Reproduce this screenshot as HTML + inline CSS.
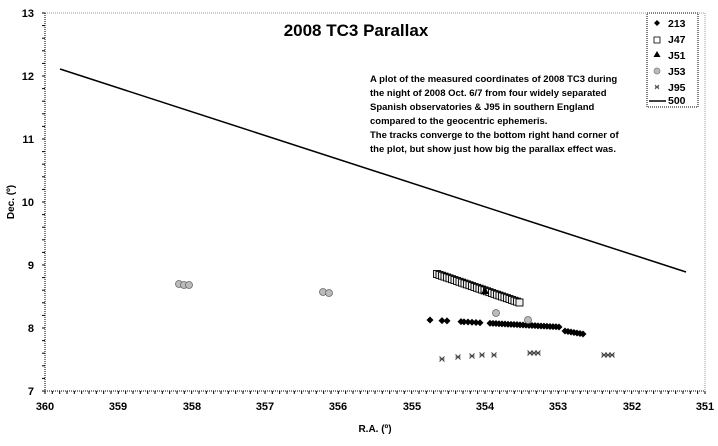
<!DOCTYPE html><html><head><style>body{margin:0;background:#fff}svg{font-family:"Liberation Sans",Arial,sans-serif;font-weight:bold}</style></head><body>
<svg width="718" height="441" xmlns="http://www.w3.org/2000/svg">
<rect width="718" height="441" fill="#fff"/>
<line x1="45" y1="13" x2="705" y2="13" stroke="#999" stroke-dasharray="1,1"/>
<line x1="705" y1="13" x2="705" y2="391" stroke="#999" stroke-dasharray="1,1"/>
<line x1="45" y1="13" x2="45" y2="391" stroke="#000" stroke-dasharray="1,1"/>
<line x1="45" y1="391" x2="705" y2="391" stroke="#000" stroke-dasharray="1,1"/>
<g stroke="#000" id="t"></g>
<g font-size="11" text-anchor="end">
<text x="34" y="17">13</text><text x="34" y="80">12</text><text x="34" y="143">11</text><text x="34" y="206">10</text><text x="34" y="269">9</text><text x="34" y="332">8</text><text x="34" y="395">7</text></g>
<g font-size="11" text-anchor="middle">
<text x="45" y="410">360</text><text x="118" y="410">359</text><text x="192" y="410">358</text><text x="265" y="410">357</text><text x="338" y="410">356</text><text x="412" y="410">355</text><text x="485" y="410">354</text><text x="558" y="410">353</text><text x="632" y="410">352</text><text x="705" y="410">351</text></g>
<text x="375" y="432" font-size="10" text-anchor="middle">R.A. (º)</text>
<text x="14" y="202" font-size="10" text-anchor="middle" transform="rotate(-90 14 202)">Dec. (º)</text>
<text x="356" y="36" font-size="17" text-anchor="middle">2008 TC3 Parallax</text>
<g font-size="9.5"><text x="370" y="82">A plot of the measured coordinates of 2008 TC3 during</text><text x="370" y="96">the night of 2008 Oct. 6/7 from four widely separated</text><text x="370" y="110">Spanish observatories &amp; J95 in southern England</text><text x="370" y="124">compared to the geocentric ephemeris.</text><text x="370" y="138">The tracks converge to the bottom right hand corner of</text><text x="370" y="152">the plot, but show just how big the parallax effect was.</text></g>
<line x1="60" y1="69" x2="686" y2="272" stroke="#000" stroke-width="1.5"/>
<g id="pts"></g>
<rect x="647" y="13" width="51" height="94" fill="#fff" stroke="#000" stroke-dasharray="1,1"/>
<g font-size="10.5"><text x="668" y="27">213</text><text x="668" y="43">J47</text><text x="668" y="59">J51</text><text x="668" y="75">J53</text><text x="668" y="91">J95</text><text x="668" y="107" dy="-3">500</text></g>
<path d="M657,20l3,3-3,3-3-3z" fill="#000"/>
<rect x="654" y="37" width="6" height="6" fill="#fff" stroke="#000" stroke-width="0.8"/>
<path d="M657,51l3.5,6h-7z" fill="#000"/>
<circle cx="657" cy="71" r="3" fill="#bbb" stroke="#777" stroke-width="0.7"/>
<path d="M655,85l4,4M659,85l-4,4M655,87h4" stroke="#555"/>
<line x1="649" y1="101" x2="666" y2="101" stroke="#000" stroke-width="1.5"/>
</svg>
<script>
var s='http://www.w3.org/2000/svg',t=document.getElementById('t'),p=document.getElementById('pts');
function el(n,a,g){var e=document.createElementNS(s,n);for(var k in a)e.setAttribute(k,a[k]);(g||p).appendChild(e);}
for(var i=0;i<=30;i++){var y=13+i*12.6;el('line',{x1:42,x2:45,y1:y,y2:y},t);}
for(var i=0;i<=90;i++){var x=45+i*7.333;el('line',{x1:x,x2:x,y1:391,y2:394},t);}
for(var x=437;x<=521;x+=2.5){var y=274+(x-437)*29/84;el('rect',{x:x-3.5,y:y-3.5,width:7,height:7,fill:'#eee',stroke:'#000','stroke-width':0.9});}
el('path',{d:'M485,287l4,7h-8z',fill:'#000'});
var d=[430,442,447,461,464,468,472,476,480];for(var x=490;x<=560;x+=3)d.push(x);for(var x=565;x<=583;x+=3)d.push(x);
d.forEach(function(x){var y=x<563?320+(x-430)*7/130:331+(x-565)*3/18;el('path',{d:'M'+x+','+(y-3.5)+'l3.5,3.5-3.5,3.5-3.5-3.5z',fill:'#000'});});
[[179,284],[184,285],[189,285],[323,292],[329,293],[496,313],[528,320]].forEach(function(c){el('circle',{cx:c[0],cy:c[1],r:3.5,fill:'#bbb',stroke:'#666','stroke-width':0.8});});
[[442,359],[458,357],[472,356],[482,355],[494,355],[530,353],[534,353],[538,353],[604,355],[608,355],[612,355]].forEach(function(c){el('path',{d:'M'+(c[0]-2.5)+','+(c[1]-2.5)+'l5,5M'+(c[0]+2.5)+','+(c[1]-2.5)+'l-5,5M'+(c[0]-2.5)+','+c[1]+'h5',stroke:'#444','stroke-width':1.1});});
</script>
</body></html>
